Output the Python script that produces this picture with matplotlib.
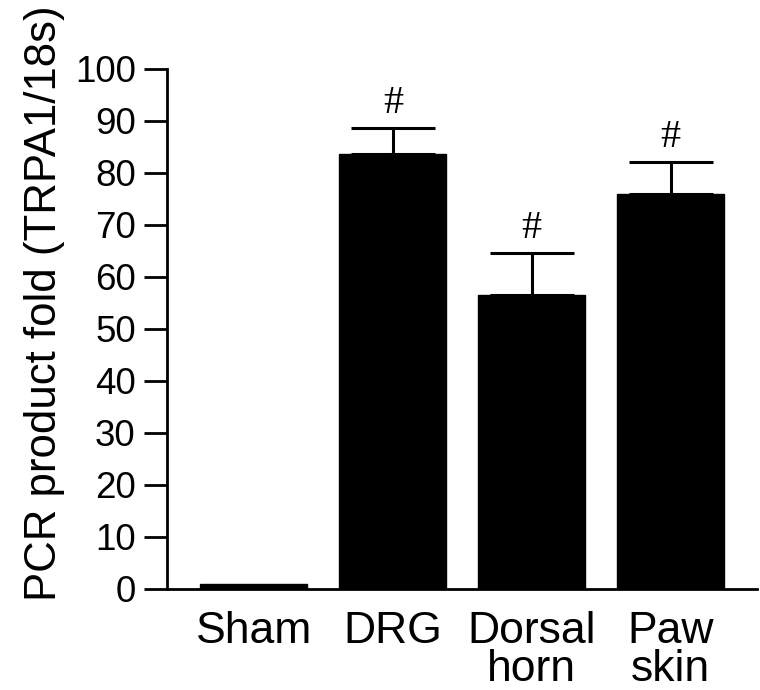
import matplotlib
matplotlib.use("Agg")
import matplotlib.pyplot as plt

groups = ["Sham", "DRG", "Dorsal\nhorn", "Paw\nskin"]
fold = [1.0, 83.7, 56.6, 76.0]
sem = [0.0, 5.0, 8.0, 6.1]
marks = ["", "#", "#", "#"]

plt.rcParams['font.family'] = ['Liberation Sans', 'DejaVu Sans']

fig = plt.figure(figsize=(7.6, 6.9), dpi=100)
ax = fig.add_axes([0.2197, 0.1464, 0.7763, 0.7536])

x = list(range(len(groups)))
ax.bar(x, fold, width=0.77, color="black", edgecolor="black")
for xi, v, e, m in zip(x, fold, sem, marks):
    if e > 0:
        ax.errorbar(xi, v, yerr=[[0], [e]], fmt="none", ecolor="black",
                    elinewidth=2.2, capsize=30, capthick=2.2)
    if m:
        ax.text(xi, v + e + 1.2, m, ha="center", va="bottom",
                fontsize=29, family="Liberation Serif")

ax.set_xlim(-0.625, 3.62)
ax.set_ylim(0, 100)
ax.set_yticks(range(0, 101, 10))
ax.set_xticks(x)
ax.set_xticklabels(groups, linespacing=0.9)
ax.set_ylabel("PCR product fold (TRPA1/18s)", fontsize=31.5)
ax.yaxis.set_label_coords(-0.172, 0.55)

ax.spines["top"].set_visible(False)
ax.spines["right"].set_visible(False)
ax.spines["left"].set_linewidth(2)
ax.spines["bottom"].set_linewidth(2)
ax.tick_params(axis="y", length=16.5, width=2, labelsize=26.5, pad=6)
ax.tick_params(axis="x", length=0, labelsize=32, pad=16)

fig.savefig("out.png", dpi=100)
